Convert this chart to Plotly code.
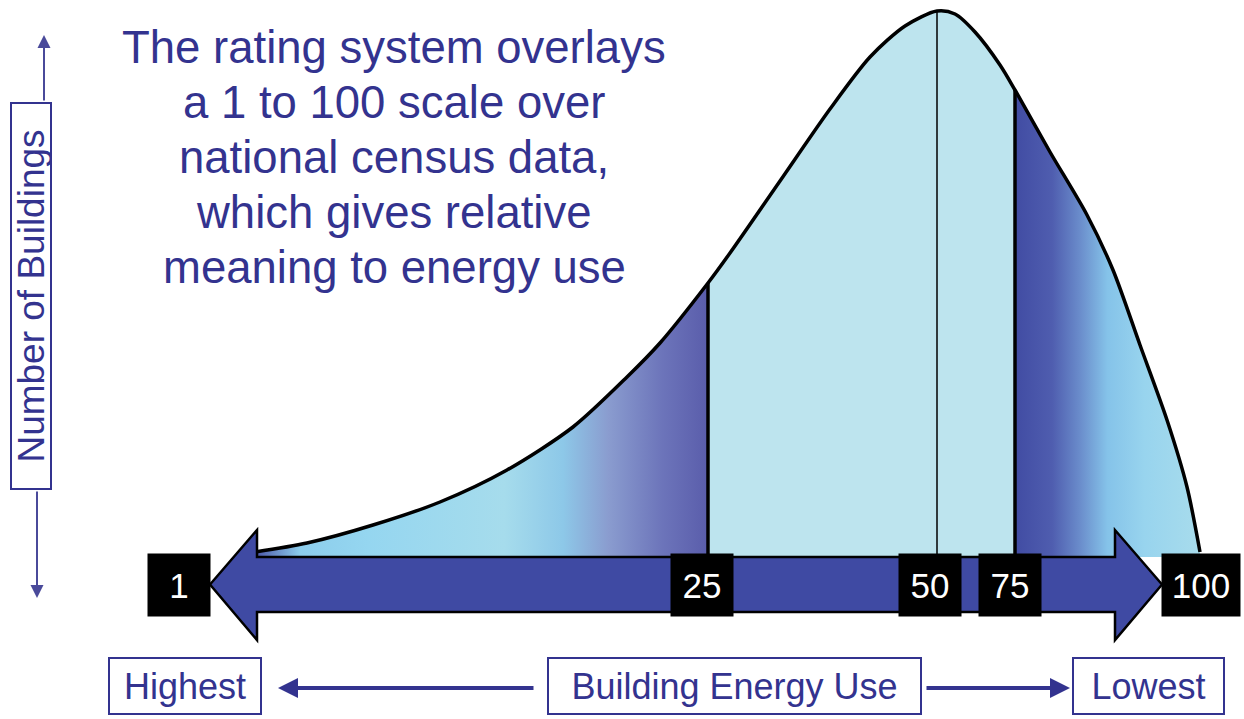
import numpy as np
import plotly.graph_objects as go

# ---------------- data ----------------
# building energy-use position (horizontal) and relative number of buildings
curve_x = [255, 307, 373, 440, 507, 573, 627, 660, 708, 730, 780, 830, 870, 905,
           937, 955, 975, 1000, 1015, 1050, 1087, 1113, 1140, 1167, 1187, 1200]
curve_y = [5, 14, 32, 55, 87, 130, 180, 214, 274, 304, 376, 448, 500, 531,
           546, 543, 525, 492, 467, 405, 342, 287, 212, 137, 70, 5]

rating_labels = ["1", "25", "50", "75", "100"]
rating_pos = [210, 708, 937, 1015, 1162]          # where each rating sits on the scale
rating_box_x = [179, 702, 930, 1010, 1201]        # label box centres

headline = ["The rating system overlays",
            "a 1 to 100 scale over",
            "national census data,",
            "which gives relative",
            "meaning to energy use"]
y_title = "Number of Buildings"
x_labels = ["Highest", "Building Energy Use", "Lowest"]

# ---------------- styling ----------------
NAVY = "#33338f"
ARROW = "#3f4aa3"
FONT = "Liberation Sans, Arial, sans-serif"
SMOOTH = 0.8

cx = np.array(curve_x, dtype=float)
cy = np.array(curve_y, dtype=float)
x25, x50, x75 = rating_pos[1], rating_pos[2], rating_pos[3]

fig = go.Figure()

def seg(lo, hi):
    m = (cx >= lo) & (cx <= hi)
    return cx[m], cy[m]

def fill_line():
    return dict(width=0, shape="spline", smoothing=SMOOTH, color="rgba(0,0,0,0)")

# left segment (ratings 1-25)
sx, sy = seg(cx.min(), x25)
fig.add_trace(go.Scatter(
    x=sx, y=sy, mode="lines", line=fill_line(), fill="tozeroy",
    fillgradient=dict(type="horizontal", start=cx.min(), stop=x25,
                      colorscale=[[0, "#4b55a8"], [0.1, "#8ccdec"], [0.25, "#95d6f0"],
                                  [0.55, "#a6dcec"], [0.68, "#8dc8e8"], [0.78, "#8a9ccf"],
                                  [0.9, "#6c74ba"], [1, "#5a5dab"]]),
    hoverinfo="skip", showlegend=False))

# middle segment (25-75)
sx, sy = seg(x25, x75)
fig.add_trace(go.Scatter(
    x=sx, y=sy, mode="lines", line=fill_line(), fill="tozeroy",
    fillcolor="#bde4ee", hoverinfo="skip", showlegend=False))

# right segment (75-100)
sx, sy = seg(x75, cx.max())
fig.add_trace(go.Scatter(
    x=sx, y=sy, mode="lines", line=fill_line(), fill="tozeroy",
    fillgradient=dict(type="horizontal", start=x75, stop=cx.max(),
                      colorscale=[[0, "#414ca3"], [0.2, "#4f5daf"], [0.35, "#6a8ccb"],
                                  [0.5, "#85c3e9"], [0.7, "#98d4ee"], [1, "#a8dcec"]]),
    hoverinfo="skip", showlegend=False))

# vertical dividers
for xv, w in [(x25, 3.5), (x50, 1.5), (x75, 3.5)]:
    fig.add_trace(go.Scatter(x=[xv, xv], y=[0, float(np.interp(xv, cx, cy))],
                             mode="lines", line=dict(color="black", width=w),
                             hoverinfo="skip", showlegend=False))

# curve outline
fig.add_trace(go.Scatter(x=cx, y=cy, mode="lines",
                         line=dict(color="black", width=3.5, shape="spline", smoothing=SMOOTH),
                         hoverinfo="skip", showlegend=False))

# ---------------- double-headed scale arrow ----------------
xl, xr = rating_pos[0], rating_pos[-1]
head = 47
sh_top, sh_bot, hd_top, hd_bot = 0, -55, 27, -83
mid = (sh_top + sh_bot) / 2
path = (f"M {xl},{mid} L {xl+head},{hd_top} L {xl+head},{sh_top} L {xr-head},{sh_top} "
        f"L {xr-head},{hd_top} L {xr},{mid} L {xr-head},{hd_bot} L {xr-head},{sh_bot} "
        f"L {xl+head},{sh_bot} L {xl+head},{hd_bot} Z")
fig.add_shape(type="path", path=path, xref="x", yref="y", layer="above",
              fillcolor=ARROW, line=dict(color="black", width=2.5))

# rating boxes
for lab, bx in zip(rating_labels, rating_box_x):
    w = 74 if len(lab) == 3 else 58
    fig.add_annotation(x=bx, y=mid, xref="x", yref="y", text=lab, showarrow=False,
                       width=w, height=58, bgcolor="black", borderpad=2,
                       font=dict(family=FONT, size=35, color="white"),
                       xanchor="center", yanchor="middle")

# ---------------- headline ----------------
for i, line in enumerate(headline):
    fig.add_annotation(x=394, y=510 - i * 55.2, xref="x", yref="y", text=line,
                       showarrow=False, font=dict(family=FONT, size=45.5, color=NAVY),
                       xanchor="center", yanchor="middle")

# ---------------- y-axis label ----------------
fig.add_annotation(x=31, y=261, xref="x", yref="y", text=y_title, textangle=-90,
                   showarrow=False, width=384, height=38, bgcolor="white",
                   bordercolor=NAVY, borderwidth=2, borderpad=0,
                   font=dict(family=FONT, size=37, color=NAVY))
fig.add_annotation(x=44, y=522, ax=44, ay=455, xref="x", yref="y", axref="x", ayref="y",
                   text="", showarrow=True, arrowhead=2, arrowsize=1.3, arrowwidth=2,
                   arrowcolor="#4a4a9a")
fig.add_annotation(x=37, y=-41, ax=37, ay=67, xref="x", yref="y", axref="x", ayref="y",
                   text="", showarrow=True, arrowhead=2, arrowsize=1.3, arrowwidth=2,
                   arrowcolor="#4a4a9a")

# ---------------- x-axis labels ----------------
for lab, bx, w in zip(x_labels, [185, 734, 1148], [150, 371, 149]):
    fig.add_annotation(x=bx, y=-129, xref="x", yref="y", text=lab, showarrow=False,
                       width=w, height=54, bgcolor="white", bordercolor=NAVY,
                       borderwidth=2, borderpad=0,
                       font=dict(family=FONT, size=36, color=NAVY))
fig.add_annotation(x=278, y=-131, ax=535, ay=-131, xref="x", yref="y", axref="x", ayref="y",
                   text="", showarrow=True, arrowhead=2, arrowsize=1, arrowwidth=4,
                   arrowcolor=NAVY)
fig.add_annotation(x=1070, y=-131, ax=925, ay=-131, xref="x", yref="y", axref="x", ayref="y",
                   text="", showarrow=True, arrowhead=2, arrowsize=1, arrowwidth=4,
                   arrowcolor=NAVY)

fig.update_layout(
    width=1244, height=719, margin=dict(l=0, r=0, t=0, b=0),
    paper_bgcolor="white", plot_bgcolor="white", showlegend=False,
    xaxis=dict(range=[0, 1244], visible=False, fixedrange=True),
    yaxis=dict(range=[-162, 557], visible=False, fixedrange=True),
)

fig.write_html("out.html", config={"displayModeBar": False},
               post_script="document.body.style.margin='0';")
